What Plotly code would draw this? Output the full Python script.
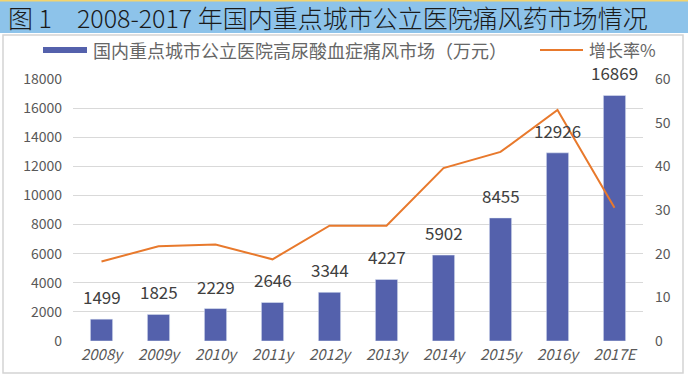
import plotly.graph_objects as go

years = ["2008y", "2009y", "2010y", "2011y", "2012y", "2013y", "2014y", "2015y", "2016y", "2017E"]
market = [1499, 1825, 2229, 2646, 3344, 4227, 5902, 8455, 12926, 16869]
growth = [18.2, 21.7, 22.1, 18.7, 26.4, 26.4, 39.6, 43.3, 52.9, 30.5]
left_ticks = list(range(0, 18001, 2000))
right_ticks = list(range(0, 61, 10))

title = "图 1　2008-2017 年国内重点城市公立医院痛风药市场情况"
bar_name = "国内重点城市公立医院高尿酸血症痛风市场（万元）"
line_name = "增长率%"

W, H = 688, 380
FONT = "Noto Sans CJK SC"
BAR_C = "#5461AC"
LINE_C = "#E8792C"
GRAY = "#595959"

def px(x):
    return x / W

def py(y):
    return 1 - y / H

fig = go.Figure()
fig.add_trace(go.Bar(x=years, y=market, marker_color=BAR_C, width=0.39,
                     name=bar_name, showlegend=False))
fig.add_trace(go.Scatter(x=years, y=growth, yaxis="y2", mode="lines",
                         line=dict(color=LINE_C, width=2), name=line_name,
                         showlegend=False))

for xv, yv in zip(years, market):
    fig.add_annotation(x=xv, y=yv, text=str(yv), showarrow=False,
                       yanchor="bottom", yshift=8,
                       font=dict(family=FONT, size=17, color="#404040"))

shapes = [
    dict(type="rect", xref="paper", yref="paper", x0=0, x1=1, y0=py(33), y1=py(1),
         fillcolor="#8DC3EA", line_width=0, layer="below"),
    dict(type="rect", xref="paper", yref="paper", x0=0, x1=1, y0=py(1.5), y1=1,
         fillcolor="#F3D46E", line_width=0, layer="below"),
    dict(type="rect", xref="paper", yref="paper", x0=px(3), x1=px(683), y0=py(373), y1=py(35),
         fillcolor="rgba(0,0,0,0)", line=dict(color="#D4D4D4", width=1.5), layer="below"),
    # legend keys
    dict(type="rect", xref="paper", yref="paper", x0=px(43), x1=px(87), y0=py(53), y1=py(47),
         fillcolor=BAR_C, line_width=0),
    dict(type="line", xref="paper", yref="paper", x0=px(540), x1=px(583), y0=py(50), y1=py(50),
         line=dict(color=LINE_C, width=2)),
]

annotations_extra = [
    dict(xref="paper", yref="paper", x=px(6), y=py(17), text=title, showarrow=False,
         xanchor="left", yanchor="middle",
         font=dict(family=FONT, size=25, color="#1A1A1A", weight=300)),
    dict(xref="paper", yref="paper", x=px(91), y=py(50), text=bar_name, showarrow=False,
         xanchor="left", yanchor="middle", font=dict(family=FONT, size=18, color="#666666")),
    dict(xref="paper", yref="paper", x=px(587), y=py(50), text=line_name, showarrow=False,
         xanchor="left", yanchor="middle", font=dict(family=FONT, size=17, color="#666666")),
]
for a in annotations_extra:
    fig.add_annotation(**a)

fig.update_layout(
    width=W, height=H,
    margin=dict(l=0, r=0, t=0, b=0),
    paper_bgcolor="white", plot_bgcolor="white",
    shapes=shapes,
    xaxis=dict(domain=[px(73), px(643)], showgrid=False, showline=False, ticks="",
               automargin=False,
               tickfont=dict(family=FONT, size=15, color=GRAY, style="italic"),
               ticklabelstandoff=3),
    yaxis=dict(domain=[py(341), py(79)], range=[0, 18000], tickvals=left_ticks,
               automargin=False,
               showgrid=True, gridcolor="#D9D9D9", gridwidth=1, zeroline=False,
               showline=False, tickformat="d",
               tickfont=dict(family=FONT, size=14, color=GRAY), ticklabelstandoff=10),
    yaxis2=dict(overlaying="y", side="right", range=[0, 60], tickvals=right_ticks,
                automargin=False,
                showgrid=False, zeroline=False, showline=False,
                tickfont=dict(family=FONT, size=14, color=GRAY), ticklabelstandoff=11),
)

fig.write_html("out.html",
               config={"displayModeBar": False},
               post_script="document.body.style.margin='0';document.body.style.overflow='hidden';")
